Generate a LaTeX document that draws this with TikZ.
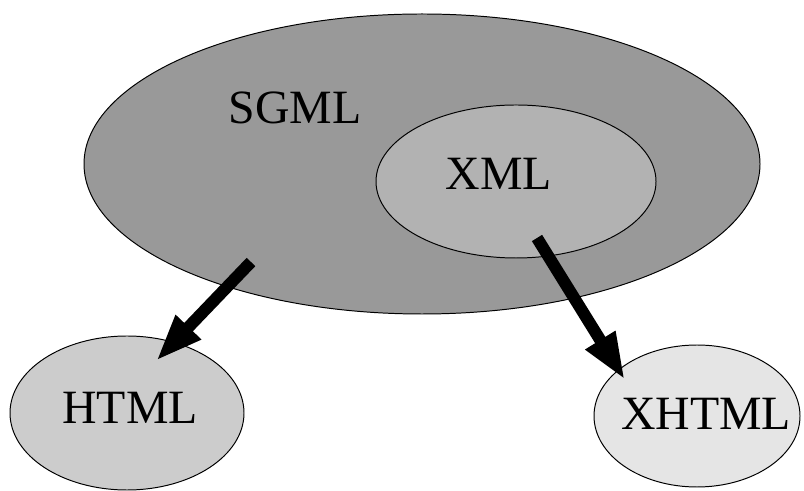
\documentclass[tikz,border=0pt]{standalone}
\usepackage{fontspec}
\setmainfont{Liberation Serif}
\usetikzlibrary{shapes.geometric,arrows.meta}

\begin{document}
\begin{tikzpicture}
        \tikzstyle{lang}=[ellipse,draw=black,line width=0.7pt,inner sep=0pt]
        \tikzstyle{langtext}=[inner sep=0pt,font=\fontsize{34}{40}\selectfont]
        \tikzstyle{conv}=[line width=0.3cm,-{Triangle[length=1.175cm,width=0.8cm]}]

        \useasboundingbox (0,0) rectangle (20.1,12.275);

        \foreach \name/\x/\y/\w/\h/\shade in {SGML/10.55/8.175/16.9/7.5/40,
                                             XML/12.9/7.7375/7/3.825/30,
                                             HTML/3.175/1.95/5.85/3.85/20,
                                             XHTML/17.425/1.875/5.15/3.55/10}
          \node[lang,fill=black!\shade,minimum width=\w cm,minimum height=\h cm] (\name) at (\x,\y) {};

        \foreach \name/\x/\y in {SGML/7.375/9.575, XML/12.475/7.925,
                                 HTML/3.25/2.075, XHTML/17.65/1.925}
          \node[langtext] (\name-text) at (\x,\y) {\name};

        \coordinate (SGML-out) at (6.275,5.725);
        \coordinate (HTML-in) at (3.9,3.25);
        \coordinate (XML-out) at (13.425,6.325);
        \coordinate (XHTML-in) at (15.625,2.775);

        \foreach \from/\to in {SGML/HTML, XML/XHTML}
          { \draw[conv] (\from-out) -- (\to-in); }
      \end{tikzpicture}
\end{document}
